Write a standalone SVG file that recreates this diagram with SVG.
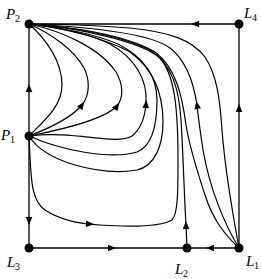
<svg xmlns="http://www.w3.org/2000/svg" xmlns:xlink="http://www.w3.org/1999/xlink" width="261" height="279" viewBox="0 0 261 279">
<style>
.c{fill:none;stroke:#000;stroke-width:1.2}
.e{fill:none;stroke:#000;stroke-width:1.3}
.lab{font-family:"Liberation Serif","DejaVu Serif",serif;font-style:italic;font-size:15px;fill:#000}
.sub{font-family:"Liberation Serif","DejaVu Serif",serif;font-size:10px;fill:#000}
.dot{fill:#000}
</style>
<defs>
<path id="ah" d="M4,0 L-4,-3.3 L-4,3.3 Z" fill="#000"/>
</defs>
<rect width="261" height="279" fill="#fff"/>
<g id="connectors">
<path class="e" d="M29,24 L239,24"/>
<path class="e" d="M239,24 L239,248"/>
<path class="e" d="M29,248 L239,248"/>
<path class="e" d="M29,24 L29,248"/>
<path class="c" d="M29,136 C45,120 62,106 62,85 C62,62 47,40 29,24"/>
<path class="c" d="M29,136 C55,126 73,116 82,105 C90,95 90,80 84,68 C74,50 52,34 29,24"/>
<path class="c" d="M29,136 C70,128 106,118 117,106 C124,97 123,84 116,72 C100,48 62,31 29,24"/>
<path class="c" d="M29,136 C75,130 115,146 132,136 C142,128 145,116 146,104 C148,80 135,58 110,44 C85,32 55,27 29,24"/>
<path class="c" d="M29,136 C60,150 110,160 137,152 C152,146 157,125 157,100 C157,78 145,58 118,44 C90,32 55,27 29,24"/>
<path class="c" d="M29,136 C45,162 100,176 137,170 C155,166 163,145 163,122 C163,95 155,70 130,52 C100,36 60,28 29,24"/>
<path class="c" d="M29,136 C31,175 30,200 45,210 C60,220 80,224 100,225 C130,227 160,227 172,220 C178,214 178,190 178,160 C178,110 175,75 160,58 C140,40 70,27 29,24"/>
<path class="c" d="M187,248 L186,225 C184,190 183,150 181,120 C179,90 173,65 150,50 C120,35 70,27 29,24"/>
<path class="c" d="M239,248 C225,235 213,220 205,195 C197,170 190,150 186,125 C182,95 176,68 155,52 C125,34 65,26 29,24"/>
<path class="c" d="M239,248 C225,225 210,190 203,150 C200,130 198,115 197,105 C194,85 188,62 170,48 C150,33 90,27 29,24"/>
<path class="c" d="M239,248 C232,210 225,170 222,130 C220,100 217,75 205,57 C192,40 170,32 130,28 C90,25 50,24 29,24"/>
<use xlink:href="#ah" transform="translate(29,88) rotate(-90)"/>
<use xlink:href="#ah" transform="translate(29,221) rotate(90)"/>
<use xlink:href="#ah" transform="translate(112,248)"/>
<use xlink:href="#ah" transform="translate(210,248) rotate(180)"/>
<use xlink:href="#ah" transform="translate(195,24) rotate(180)"/>
<use xlink:href="#ah" transform="translate(239,108) rotate(-90)"/>
<use xlink:href="#ah" transform="translate(186,225) rotate(-92)"/>
<use xlink:href="#ah" transform="translate(90,224) rotate(3)"/>
<use xlink:href="#ah" transform="translate(82,105) rotate(-55)"/>
<use xlink:href="#ah" transform="translate(117,106) rotate(-55)"/>
<use xlink:href="#ah" transform="translate(146,104) rotate(-85)"/>
<use xlink:href="#ah" transform="translate(197,105) rotate(-100)"/>
</g>
<g id="P2"><circle class="dot" cx="29" cy="24" r="4.5"/><text class="lab" x="6" y="19">P</text><text class="sub" x="15" y="22">2</text></g>
<g id="L4"><circle class="dot" cx="239" cy="24" r="4.5"/><text class="lab" x="244" y="18">L</text><text class="sub" x="252" y="21">4</text></g>
<g id="P1"><circle class="dot" cx="29" cy="136" r="4.5"/><text class="lab" x="1" y="140">P</text><text class="sub" x="10" y="143">1</text></g>
<g id="L3"><circle class="dot" cx="29" cy="248" r="4.5"/><text class="lab" x="7" y="267">L</text><text class="sub" x="15" y="270">3</text></g>
<g id="L2"><circle class="dot" cx="187" cy="248" r="4.5"/><text class="lab" x="175" y="274">L</text><text class="sub" x="183" y="277">2</text></g>
<g id="L1"><circle class="dot" cx="239" cy="248" r="4.5"/><text class="lab" x="246" y="266">L</text><text class="sub" x="254" y="269">1</text></g>
</svg>
